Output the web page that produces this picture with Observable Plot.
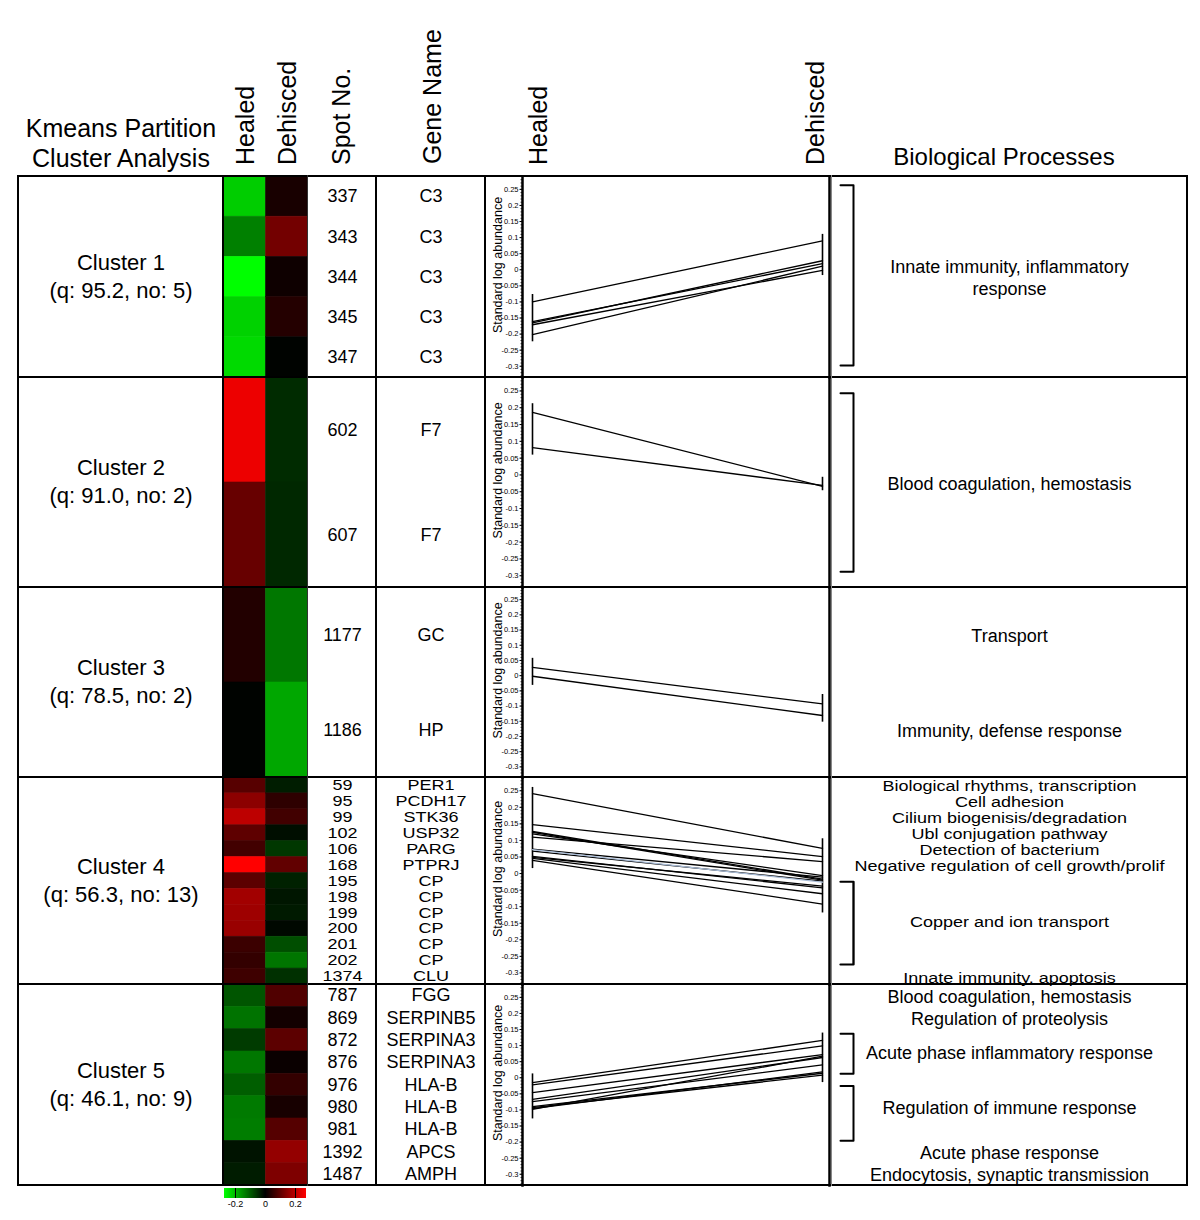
<!DOCTYPE html>
<html><head><meta charset="utf-8">
<script src="https://cdn.jsdelivr.net/npm/d3@7"></script>
<script src="https://cdn.jsdelivr.net/npm/@observablehq/plot@0.6"></script>
<style>
body{margin:0;background:#fff;font-family:'Liberation Sans',Arial,sans-serif;color:#000;}
#fig{position:relative;width:1200px;height:1220px;overflow:hidden;background:#fff;}
#fig svg{display:block;}
.abs{position:absolute;}
.rot{position:absolute;left:0;top:0;white-space:nowrap;font-size:25px;line-height:1;transform-origin:0 0;}
.ln{position:absolute;background:#000;}
</style></head><body><div id="fig"></div>
<script>
// ---------------- data ----------------
const conditions = ["Healed", "Dehisced"];
const yTicks = [-0.3, -0.25, -0.2, -0.15, -0.1, -0.05, 0, 0.05, 0.1, 0.15, 0.2, 0.25];
const legendTicks = [-0.2, 0, 0.2];

const clusterNames = ["Cluster 1", "Cluster 2", "Cluster 3", "Cluster 4", "Cluster 5"];
const clusterStats = ["(q: 95.2, no: 5)", "(q: 91.0, no: 2)", "(q: 78.5, no: 2)", "(q: 56.3, no: 13)", "(q: 46.1, no: 9)"];

const c1Spots = ["337", "343", "344", "345", "347"];
const c1Genes = ["C3", "C3", "C3", "C3", "C3"];
const c1Healed = [-0.161, -0.100, -0.202, -0.165, -0.171];
const c1Dehisced = [0.019, 0.090, 0.011, 0.028, -0.002];
const c1ErrHealed = [-0.224, -0.077];
const c1ErrDehisced = [-0.018, 0.110];

const c2Spots = ["602", "607"];
const c2Genes = ["F7", "F7"];
const c2Healed = [0.186, 0.081];
const c2Dehisced = [-0.034, -0.031];
const c2ErrHealed = [0.059, 0.212];
const c2ErrDehisced = [-0.047, -0.007];

const c3Spots = ["1177", "1186"];
const c3Genes = ["GC", "HP"];
const c3Healed = [0.027, -0.002];
const c3Dehisced = [-0.093, -0.131];
const c3ErrHealed = [-0.032, 0.057];
const c3ErrDehisced = [-0.153, -0.062];

const c4Spots = ["59", "95", "99", "102", "106", "168", "195", "198", "199", "200", "201", "202", "1374"];
const c4Genes = ["PER1", "PCDH17", "STK36", "USP32", "PARG", "PTPRJ", "CP", "CP", "CP", "CP", "CP", "CP", "CLU"];
const c4Healed = [0.068, 0.110, 0.148, 0.074, 0.052, 0.241, 0.072, 0.127, 0.124, 0.120, 0.046, 0.040, 0.049];
const c4Dehisced = [-0.023, 0.036, 0.051, -0.011, -0.043, 0.076, -0.026, -0.017, -0.020, -0.006, -0.061, -0.092, -0.038];
const c4ErrHealed = [0.015, 0.260];
const c4ErrDehisced = [-0.119, 0.105];
const c4TintedSpots = ["195"];

const c5Spots = ["787", "869", "872", "876", "976", "980", "981", "1392", "1487"];
const c5Genes = ["FGG", "SERPINB5", "SERPINA3", "SERPINA3", "HLA-B", "HLA-B", "HLA-B", "APCS", "AMPH"];
const c5Healed = [-0.067, -0.090, -0.046, -0.093, -0.074, -0.096, -0.098, -0.015, -0.022];
const c5Dehisced = [0.063, 0.014, 0.072, 0.008, 0.040, 0.018, 0.067, 0.116, 0.099];
const c5ErrHealed = [-0.128, 0.012];
const c5ErrDehisced = [-0.015, 0.139];

// biological processes: spot index range (from..to) and label
const c1Bio = [{from: 0, to: 4, label: "Innate immunity, inflammatory\nresponse"}];
const c2Bio = [{from: 0, to: 1, label: "Blood coagulation, hemostasis"}];
const c3Bio = [{from: 0, to: 0, label: "Transport"}, {from: 1, to: 1, label: "Immunity, defense response"}];
const c4Bio = [
  {from: 0, to: 0, label: "Biological rhythms, transcription"},
  {from: 1, to: 1, label: "Cell adhesion"},
  {from: 2, to: 2, label: "Cilium biogenisis/degradation"},
  {from: 3, to: 3, label: "Ubl conjugation pathway"},
  {from: 4, to: 4, label: "Detection of bacterium"},
  {from: 5, to: 5, label: "Negative regulation of cell growth/prolif"},
  {from: 6, to: 11, label: "Copper and ion transport"},
  {from: 12, to: 12, label: "Innate immunity, apoptosis"}
];
const c5Bio = [
  {from: 0, to: 0, label: "Blood coagulation, hemostasis"},
  {from: 1, to: 1, label: "Regulation of proteolysis"},
  {from: 2, to: 3, label: "Acute phase inflammatory response"},
  {from: 4, to: 6, label: "Regulation of immune response"},
  {from: 7, to: 7, label: "Acute phase response"},
  {from: 8, to: 8, label: "Endocytosis, synaptic transmission"}
];
// bracket extents in spot-index units
const c1Brackets = [[0.22, 4.7]];
const c2Brackets = [[0.15, 1.85]];
const c3Brackets = [];
const c4Brackets = [[6.55, 11.75]];
const c5Brackets = [[2.2, 4.0], [4.55, 7.0]];

// ---------------- layout ----------------
const rowEdges = [176, 377, 587, 777, 984, 1185];
const textSqueeze = [1, 1, 1, 0.83, 1];   // vertical compression of the dense spot/gene lists
const bioSqueeze = [1, 1, 1, 0.86, 1];
const FONT = "'Liberation Sans', Arial, sans-serif";
const BR_X0 = 9, BR_X1 = 22, BIO_W = 356;

const clusters = [
  {spots: c1Spots, genes: c1Genes, healed: c1Healed, dehisced: c1Dehisced, errH: c1ErrHealed, errD: c1ErrDehisced, bio: c1Bio, brackets: c1Brackets, tint: []},
  {spots: c2Spots, genes: c2Genes, healed: c2Healed, dehisced: c2Dehisced, errH: c2ErrHealed, errD: c2ErrDehisced, bio: c2Bio, brackets: c2Brackets, tint: []},
  {spots: c3Spots, genes: c3Genes, healed: c3Healed, dehisced: c3Dehisced, errH: c3ErrHealed, errD: c3ErrDehisced, bio: c3Bio, brackets: c3Brackets, tint: []},
  {spots: c4Spots, genes: c4Genes, healed: c4Healed, dehisced: c4Dehisced, errH: c4ErrHealed, errD: c4ErrDehisced, bio: c4Bio, brackets: c4Brackets, tint: c4TintedSpots},
  {spots: c5Spots, genes: c5Genes, healed: c5Healed, dehisced: c5Dehisced, errH: c5ErrHealed, errD: c5ErrDehisced, bio: c5Bio, brackets: c5Brackets, tint: []}
].map((c, i) => ({...c, name: clusterNames[i], stats: clusterStats[i]}));

const colorScale = {type: "linear", domain: [-0.2, 0, 0.2], range: ["#00ff00", "#000000", "#ff0000"], interpolate: "rgb", clamp: true};

const fig = document.getElementById("fig");
function place(el, left, top) {
  const d = document.createElement("div");
  d.className = "abs";
  d.style.left = left + "px";
  d.style.top = top + "px";
  d.appendChild(el);
  fig.appendChild(d);
  return d;
}
function squeezeY(svg, s) {
  if (s !== 1) {
    svg.style.transformOrigin = "0 0";
    svg.style.transform = `scaleY(${s})`;
  }
  return svg;
}
function longRows(c) {
  return c.spots.flatMap((s, i) => [
    {spot: s, cond: "Healed", v: c.healed[i]},
    {spot: s, cond: "Dehisced", v: c.dehisced[i]}
  ]);
}

function heatmap(c, h) {
  return Plot.plot({
    width: 83, height: h, margin: 0,
    style: {fontFamily: FONT, background: "transparent"},
    x: {type: "band", domain: conditions, padding: 0, round: false, axis: null},
    y: {type: "band", domain: c.spots, padding: 0, round: false, axis: null},
    color: colorScale,
    marks: [Plot.cell(longRows(c), {x: "cond", y: "spot", fill: "v", stroke: "v", strokeWidth: 0.6, inset: 0})]
  });
}

function textColumn(c, h, w, labels, squeeze) {
  const svg = Plot.plot({
    width: w, height: h / squeeze, margin: 0,
    style: {fontFamily: FONT, background: "transparent", overflow: "visible"},
    y: {type: "band", domain: c.spots, padding: 0, round: false, axis: null},
    marks: [Plot.text(c.spots.map((s, i) => ({spot: s, label: labels[i]})), {y: "spot", text: "label", fontSize: 18, fill: "#000"})]
  });
  return squeezeY(svg, squeeze);
}

function linePlot(c, h) {
  const errs = [
    {cond: "Healed", lo: c.errH[0], hi: c.errH[1]},
    {cond: "Dehisced", lo: c.errD[0], hi: c.errD[1]}
  ];
  const rows = longRows(c).map(d => ({...d, col: c.tint.includes(d.spot) ? "#a9bcd6" : "#000"}));
  return Plot.plot({
    width: 345, height: h, marginLeft: 37, marginRight: 1, marginTop: 0, marginBottom: 0,
    style: {fontFamily: FONT, background: "transparent", overflow: "visible"},
    x: {type: "point", domain: conditions, range: [47, 337], padding: 0, round: false, axis: null},
    y: {domain: [-0.335, 0.29], range: [h, 0], label: null},
    color: {type: "identity"},
    marks: [
      Plot.axisY(d3.ticks(-0.33, 0.28, 60), {anchor: "left", tickSize: 1.5, tickFormat: () => "", label: null, stroke: "#444"}),
      Plot.axisY(yTicks, {anchor: "left", tickSize: 2.5, tickPadding: 1.5, fontSize: 7.5, label: null,
        tickFormat: d => String(Math.round(d * 100) / 100)}),
      Plot.text(["Standard log abundance"], {frameAnchor: "left", textAnchor: "middle", rotate: -90, dx: -25, dy: -12, fontSize: 12.5, fill: "#000"}),
      Plot.frame({anchor: "left", strokeWidth: 2.5}),
      Plot.frame({anchor: "right", strokeWidth: 2.5}),
      Plot.ruleX(errs, {x: "cond", y1: "lo", y2: "hi", strokeWidth: 1.6, stroke: "#000"}),
      Plot.line(rows, {x: "cond", y: "v", z: "spot", stroke: "col", strokeWidth: 1.3})
    ]
  });
}

function bioPlot(c, h, squeeze) {
  const n = c.spots.length, H = h / squeeze;
  const texts = c.bio.map(b => ({label: b.label, y: (b.from + b.to + 1) / 2}));
  const brk = c.brackets.flatMap((b, k) => [
    {k, x: BR_X0, y: b[0]}, {k, x: BR_X1, y: b[0]}, {k, x: BR_X1, y: b[1]}, {k, x: BR_X0, y: b[1]}
  ]);
  const svg = Plot.plot({
    width: BIO_W, height: H, margin: 0,
    style: {fontFamily: FONT, background: "transparent", overflow: "visible"},
    x: {domain: [0, BIO_W], range: [0, BIO_W], axis: null},
    y: {domain: [0, n], range: [0, H], axis: null},
    marks: [
      Plot.line(brk, {x: "x", y: "y", z: "k", stroke: "#000", strokeWidth: 2 / squeeze}),
      Plot.text(texts, {y: "y", text: "label", fontSize: 18, lineHeight: 1.22, fill: "#000", frameAnchor: "middle"})
    ]
  });
  return squeezeY(svg, squeeze);
}

// ---------------- draw rows ----------------
clusters.forEach((c, i) => {
  const top = rowEdges[i], h = rowEdges[i + 1] - rowEdges[i];
  const lab = document.createElement("div");
  lab.style.cssText = `position:absolute;left:18px;width:206px;top:${top}px;height:${h}px;display:flex;flex-direction:column;justify-content:center;align-items:center;font-size:22px;line-height:28px;text-align:center;white-space:nowrap;`;
  lab.innerHTML = `<div>${c.name}</div><div>${c.stats}</div>`;
  fig.appendChild(lab);
  place(heatmap(c, h), 224, top);
  place(textColumn(c, h, 68, c.spots, textSqueeze[i]), 308, top);
  place(textColumn(c, h, 109, c.genes, textSqueeze[i]), 376, top);
  place(linePlot(c, h), 485, top);
  place(bioPlot(c, h, bioSqueeze[i]), 831, top);
});

// ---------------- table lines ----------------
function line(x, y, w, h, color) {
  const d = document.createElement("div");
  d.className = "ln";
  d.style.cssText += `left:${x}px;top:${y}px;width:${w}px;height:${h}px;` + (color ? `background:${color};` : "");
  fig.appendChild(d);
}
rowEdges.forEach(y => line(17, y - 1, 1171, 2));
const T = rowEdges[0] - 1, H = rowEdges[rowEdges.length - 1] - rowEdges[0] + 2;
line(17, T, 2, H);
line(222, T, 2, H);
line(307, T, 1, H, "#333");
line(375, T, 2, H);
line(484, T, 2, H);
line(831, T, 1, H, "#888");
line(1186, T, 2, H);

// ---------------- headers ----------------
function rotHeader(text, cx, bottom) {
  const d = document.createElement("div");
  d.className = "rot";
  d.textContent = text;
  d.style.transform = `translate(${cx}px, ${bottom}px) rotate(-90deg) translateY(-50%)`;
  fig.appendChild(d);
}
rotHeader("Healed", 245, 165);
rotHeader("Dehisced", 287, 165);
rotHeader("Spot No.", 341, 165);
rotHeader("Gene Name", 432, 164);
rotHeader("Healed", 538, 165);
rotHeader("Dehisced", 815, 165);

const km = document.createElement("div");
km.style.cssText = "position:absolute;left:18px;width:206px;top:113px;font-size:25px;line-height:30px;text-align:center;white-space:nowrap;";
km.innerHTML = "<div>Kmeans Partition</div><div>Cluster Analysis</div>";
fig.appendChild(km);

const bp = document.createElement("div");
bp.style.cssText = "position:absolute;left:826px;width:356px;top:142px;font-size:24px;line-height:30px;text-align:center;white-space:nowrap;";
bp.textContent = "Biological Processes";
fig.appendChild(bp);

// ---------------- legend ----------------
const leg = Plot.legend({
  color: {type: "linear", domain: [-0.27, 0, 0.27], range: ["#00ff00", "#000000", "#ff0000"], interpolate: "rgb"},
  width: 82, height: 27, marginLeft: 0, marginRight: 0, marginTop: 0, marginBottom: 17,
  tickSize: 0, ticks: legendTicks, tickFormat: d => String(d), label: null,
  style: {fontSize: "9px", fontFamily: FONT}
});
place(leg, 224, 1188);
</script></body></html>
